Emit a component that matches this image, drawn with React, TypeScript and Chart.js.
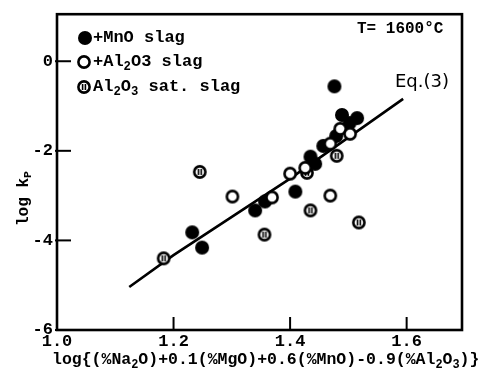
import React, { useEffect, useRef } from 'react';
import { Chart, registerables } from 'chart.js';
Chart.register(...registerables);

// +MnO slag (filled)
const mnoX = [1.476, 1.489, 1.515, 1.502, 1.479, 1.457, 1.435, 1.443, 1.409, 1.357, 1.340, 1.232, 1.249];
const mnoY = [-0.56, -1.20, -1.27, -1.38, -1.67, -1.89, -2.13, -2.29, -2.91, -3.13, -3.33, -3.82, -4.16];
// +Al2O3 slag (open)
const alX = [1.301, 1.369, 1.400, 1.426, 1.469, 1.486, 1.503, 1.469];
const alY = [-3.02, -3.04, -2.51, -2.38, -1.84, -1.51, -1.62, -3.00];
// Al2O3 sat. slag
const satX = [1.183, 1.245, 1.356, 1.435, 1.480, 1.518, 1.429];
const satY = [-4.40, -2.47, -3.87, -3.33, -2.11, -3.60, -2.49];
// Eq.(3)
const eqX = [1.124, 1.2, 1.4, 1.594];
const eqY = [-5.04, -4.33, -2.62, -0.84];

const xTicks = [1.0, 1.2, 1.4, 1.6];
const yTicks = [-6, -4, -2, 0];
const xMin = 1.0, xMax = 1.695, yMin = -6, yMax = 1.05;

type Part = [string, number];
const legend1: Part[] = [['+MnO slag', 0]];
const legend2: Part[] = [['+Al', 0], ['2', 1], ['O3 slag', 0]];
const legend3: Part[] = [['Al', 0], ['2', 1], ['O', 0], ['3', 1], [' sat. slag', 0]];
const tempLabel: Part[] = [['T= 1600°C', 0]];
const eqLabel = 'Eq.(3)';
const xTitle: Part[] = [['log{(%Na', 0], ['2', 1], ['O)+0.1(%MgO)+0.6(%MnO)-0.9(%Al', 0], ['2', 1], ['O', 0], ['3', 1], [')}', 0]];
const yTitle: Part[] = [['log k', 0], ['P', 1]];

const MONO = '"Liberation Mono", "DejaVu Sans Mono", monospace';

function makeMarker(kind: 'filled' | 'open' | 'sat'): HTMLCanvasElement {
  const c = document.createElement('canvas');
  c.width = 18; c.height = 18;
  const g = c.getContext('2d')!;
  const cx = 9, cy = 9;
  g.beginPath();
  if (kind === 'filled') {
    g.arc(cx, cy, 7, 0, Math.PI * 2);
    g.fillStyle = '#000';
    g.fill();
  } else {
    g.arc(cx, cy, 5.6, 0, Math.PI * 2);
    g.fillStyle = '#fff';
    g.fill();
    g.lineWidth = 2.6;
    g.strokeStyle = '#000';
    g.stroke();
    if (kind === 'sat') {
      g.fillStyle = '#000';
      g.fillRect(cx - 2.2, cy - 3, 1.6, 6);
      g.fillRect(cx + 0.6, cy - 3, 1.6, 6);
    }
  }
  return c;
}

function drawRich(ctx: CanvasRenderingContext2D, parts: Part[], x: number, y: number, size: number) {
  let cx = x;
  ctx.textBaseline = 'middle';
  ctx.textAlign = 'left';
  for (const [t, sub] of parts) {
    const s = sub ? size * 0.72 : size;
    ctx.font = `bold ${s}px ${MONO}`;
    ctx.fillText(t, cx, y + (sub ? size * 0.28 : 0));
    cx += ctx.measureText(t).width;
  }
}

export default function App() {
  const ref = useRef<HTMLCanvasElement>(null);
  useEffect(() => {
    const filled = makeMarker('filled');
    const open = makeMarker('open');
    const sat = makeMarker('sat');
    const pts = (xs: number[], ys: number[]) => xs.map((x, i) => ({ x, y: ys[i] }));

    const deco = {
      id: 'deco',
      afterDatasetsDraw(chart: any) {
        const ctx = chart.ctx as CanvasRenderingContext2D;
        const a = chart.chartArea;
        const xs = chart.scales.x, ys = chart.scales.y;
        ctx.save();
        ctx.strokeStyle = '#000';
        ctx.lineWidth = 2.6;
        ctx.strokeRect(a.left, a.top, a.right - a.left, a.bottom - a.top);
        ctx.lineWidth = 2;
        for (const v of xTicks) {
          const px = xs.getPixelForValue(v);
          ctx.beginPath();
          ctx.moveTo(px, a.bottom);
          ctx.lineTo(px, a.bottom - 13);
          ctx.stroke();
        }
        for (const v of yTicks) {
          const py = ys.getPixelForValue(v);
          ctx.beginPath();
          ctx.moveTo(a.left - 2, py);
          ctx.lineTo(a.left + 14, py);
          ctx.stroke();
        }
        ctx.restore();
      },
      afterDraw(chart: any) {
        const ctx = chart.ctx as CanvasRenderingContext2D;
        ctx.save();
        ctx.fillStyle = '#000';
        // legend
        ctx.drawImage(filled, 85 - 9, 38 - 9);
        ctx.drawImage(open, 84 - 9, 62 - 9);
        ctx.drawImage(sat, 84 - 9, 87 - 9);
        drawRich(ctx, legend1, 93, 38, 17);
        drawRich(ctx, legend2, 93, 62, 17);
        drawRich(ctx, legend3, 93, 87, 17);
        drawRich(ctx, tempLabel, 357, 29, 16);
        // Eq label
        ctx.font = '18px "DejaVu Sans", sans-serif';
        ctx.textBaseline = 'middle';
        ctx.textAlign = 'left';
        ctx.fillText(eqLabel, 395, 82);
        // x title
        drawRich(ctx, xTitle, 52, 360, 16.5);
        // y title
        ctx.translate(24, 226);
        ctx.rotate(-Math.PI / 2);
        drawRich(ctx, yTitle, 0, 0, 16);
        ctx.restore();
      },
    };

    const tickFont = { family: MONO, size: 17, weight: 'bold' as const };
    const chart = new Chart(ref.current!, {
      type: 'scatter',
      data: {
        datasets: [
          {
            label: 'Eq.(3)', data: pts(eqX, eqY), showLine: true, borderColor: '#000', borderWidth: 2.6,
            pointRadius: 0, fill: false, order: 4, tension: 0,
          },
          { label: '+MnO slag', data: pts(mnoX, mnoY), pointStyle: filled, order: 3 },
          { label: 'Al2O3 sat. slag', data: pts(satX, satY), pointStyle: sat, order: 2 },
          { label: '+Al2O3 slag', data: pts(alX, alY), pointStyle: open, order: 1 },
        ] as any,
      },
      options: {
        animation: false,
        responsive: false,
        events: [],
        layout: { padding: { top: 10, right: 26, left: 0, bottom: 0 } },
        plugins: { legend: { display: false }, tooltip: { enabled: false } },
        scales: {
          x: {
            type: 'linear', min: xMin, max: xMax,
            afterBuildTicks: (s: any) => { s.ticks = xTicks.map((v) => ({ value: v })); },
            afterFit: (s: any) => { s.height = 40; },
            grid: { display: false, drawTicks: false },
            border: { display: false },
            ticks: { padding: 2, color: '#000', font: tickFont, maxRotation: 0, autoSkip: false, callback: (v: any) => Number(v).toFixed(1) },
          },
          y: {
            type: 'linear', min: yMin, max: yMax,
            afterBuildTicks: (s: any) => { s.ticks = yTicks.map((v) => ({ value: v })); },
            afterFit: (s: any) => { s.width = 57; },
            grid: { display: false, drawTicks: false },
            border: { display: false },
            ticks: { padding: 4, color: '#000', font: tickFont, autoSkip: false, callback: (v: any) => String(v) },
          },
        },
      } as any,
      plugins: [deco],
    });
    return () => chart.destroy();
  }, []);
  return (
    <div style={{ position: 'absolute', left: 0, top: 0, width: 488, height: 370, background: '#fff' }}>
      <canvas ref={ref} width={488} height={370} />
    </div>
  );
}
